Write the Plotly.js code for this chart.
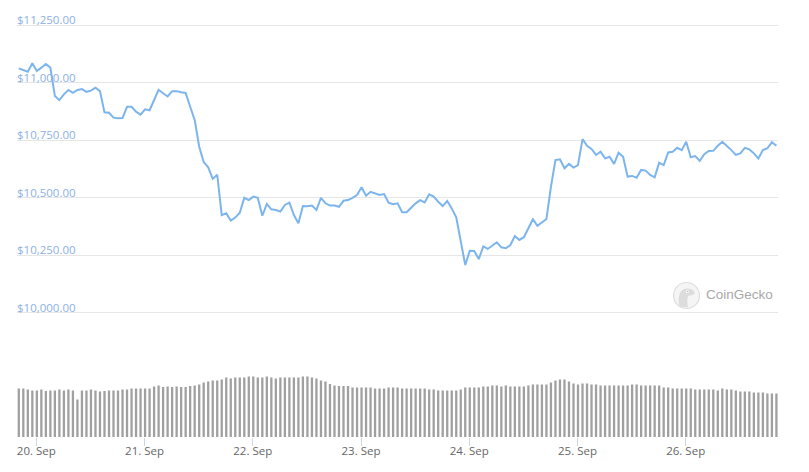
<!DOCTYPE html>
<html>
<head>
<meta charset="utf-8">
<script src="https://cdn.plot.ly/plotly-3.0.1.min.js"></script>
<style>
  html, body { margin: 0; padding: 0; background: #ffffff; }
  #chart { width: 809px; height: 472px; }
</style>
</head>
<body>
<div id="chart"></div>
<script>
// Hourly samples, first one at 19 Sep 2020 20:07 (UTC)
const startTime = Date.UTC(2020, 8, 19, 20, 7);
const stepMs = 3600000;

// Price in USD, one per hour
const prices = [
  11062, 11055, 11047, 11084, 11050, 11065, 11081, 11065, 10942, 10924,
  10949, 10968, 10956, 10968, 10972, 10960, 10965, 10978, 10963, 10871,
  10869, 10848, 10845, 10846, 10895, 10895, 10874, 10861, 10884, 10880,
  10921, 10969, 10954, 10940, 10963, 10963, 10958, 10955, 10895, 10838,
  10722, 10655, 10632, 10582, 10600, 10425, 10433, 10401, 10414, 10435,
  10500, 10490, 10505, 10500, 10422, 10473, 10450, 10447, 10440, 10469,
  10479, 10425, 10389, 10464, 10463, 10466, 10447, 10500, 10476, 10466,
  10466, 10461, 10487, 10490, 10500, 10512, 10546, 10509, 10526, 10520,
  10512, 10516, 10479, 10472, 10476, 10437, 10437, 10457, 10476, 10490,
  10480, 10515, 10505, 10483, 10464, 10486, 10454, 10415, 10317, 10208,
  10270, 10269, 10234, 10289, 10278, 10292, 10307, 10285, 10281, 10295,
  10334, 10317, 10329, 10368, 10407, 10378, 10392, 10408, 10548, 10664,
  10667, 10628, 10647, 10631, 10642, 10755, 10726, 10712, 10686, 10700,
  10671, 10678, 10647, 10696, 10678, 10592, 10595, 10587, 10621, 10618,
  10599, 10589, 10652, 10642, 10697, 10700, 10717, 10707, 10743, 10676,
  10681, 10660, 10689, 10703, 10704, 10726, 10743, 10726, 10707, 10686,
  10693, 10717, 10710, 10693, 10671, 10707, 10715, 10741, 10726
];

// Total volume, billions of USD, one per hour
const volumes = [
  24.3, 24.2, 23.8, 23.3, 23.3, 23.8, 23.0, 23.3, 23.3, 23.8,
  23.3, 23.8, 23.3, 18.8, 23.3, 23.3, 23.8, 23.3, 22.7, 23.0,
  23.3, 23.3, 23.3, 23.8, 23.8, 24.3, 24.3, 24.3, 24.3, 24.3,
  25.2, 25.8, 25.0, 25.3, 25.0, 25.3, 25.0, 25.0, 25.5, 25.8,
  26.3, 27.2, 27.7, 28.2, 28.2, 28.8, 29.7, 29.3, 29.7, 29.7,
  29.7, 30.3, 30.2, 29.7, 29.7, 30.3, 29.8, 29.3, 29.8, 29.8,
  29.8, 29.8, 29.8, 30.2, 30.3, 29.8, 29.3, 28.2, 27.7, 26.5,
  25.8, 25.5, 25.5, 25.5, 24.8, 24.8, 24.8, 24.8, 24.8, 24.3,
  24.3, 24.3, 24.7, 24.8, 24.8, 24.3, 24.3, 24.3, 24.3, 24.3,
  24.3, 23.8, 23.8, 23.3, 23.3, 23.3, 23.3, 23.3, 23.8, 24.8,
  24.8, 24.8, 24.8, 25.3, 25.3, 25.8, 25.8, 25.3, 25.8, 25.3,
  25.3, 25.3, 25.3, 25.8, 26.3, 26.3, 26.3, 26.3, 27.3, 28.2,
  28.8, 28.8, 27.7, 26.8, 26.3, 26.8, 26.8, 26.3, 26.3, 25.8,
  25.8, 25.8, 25.8, 25.8, 25.8, 25.8, 26.3, 26.3, 25.8, 25.8,
  25.8, 25.8, 25.8, 24.8, 24.8, 24.3, 24.3, 24.3, 24.3, 24.3,
  23.8, 23.8, 23.8, 23.8, 23.8, 23.3, 24.3, 23.8, 23.8, 23.3,
  22.8, 22.8, 22.8, 22.3, 22.3, 22.3, 21.8, 21.8, 21.8
];

const dayTicks = ['2020-09-20', '2020-09-21', '2020-09-22', '2020-09-23',
                  '2020-09-24', '2020-09-25', '2020-09-26'];
const dayLabels = ['20. Sep', '21. Sep', '22. Sep', '23. Sep',
                   '24. Sep', '25. Sep', '26. Sep'];

const priceTicks = [10000, 10250, 10500, 10750, 11000, 11250];
const priceTickText = priceTicks.map(v =>
  '$' + v.toLocaleString('en-US', { minimumFractionDigits: 2, maximumFractionDigits: 2 }));

const times = prices.map((_, i) => startTime + i * stepMs);

const lineTrace = {
  type: 'scatter',
  mode: 'lines',
  x: times,
  y: prices,
  xaxis: 'x',
  yaxis: 'y',
  line: { color: '#7cb5ec', width: 2 },
  hoverinfo: 'skip'
};

const volTrace = {
  type: 'bar',
  x: times,
  y: volumes,
  xaxis: 'x',
  yaxis: 'y2',
  marker: { color: '#a0a0a0', line: { width: 0 } },
  hoverinfo: 'skip'
};

const logoSvg =
  '<svg xmlns="http://www.w3.org/2000/svg" width="28" height="28" viewBox="0 0 28 28">' +
  '<circle cx="14" cy="14" r="13" fill="#f5f5f5" stroke="#dedede" stroke-width="1.2"/>' +
  '<path d="M7 25 C5.5 18 6 10 11.5 7.5 C15.5 6 20.5 7.5 22 10.5 C22.5 13 19.5 14 16.5 14 C14.5 15 14.5 20 15.5 26 Z" fill="#dcdcdc"/>' +
  '<circle cx="15" cy="10" r="1.6" fill="#ffffff"/>' +
  '<circle cx="15.2" cy="10" r="0.8" fill="#b8b8b8"/>' +
  '</svg>';

// plot area: x 17..778, y 2..437 (435 px tall)
const H = 435;
const layout = {
  width: 809,
  height: 472,
  margin: { l: 17, r: 31, t: 2, b: 35, pad: 0 },
  paper_bgcolor: '#ffffff',
  plot_bgcolor: '#ffffff',
  showlegend: false,
  bargap: 0.49,
  font: { family: '"Open Sans", "DejaVu Sans", sans-serif', color: '#666666' },
  xaxis: {
    type: 'date',
    anchor: 'y2',
    range: ['2020-09-19 19:43', '2020-09-26 20:28'],
    tickmode: 'array',
    tickvals: dayTicks,
    ticktext: dayLabels,
    ticks: 'outside',
    ticklen: 8,
    tickwidth: 1,
    tickcolor: '#ccd6eb',
    ticklabelstandoff: -5,
    ticklabeloverflow: 'allow',
    showgrid: false,
    zeroline: false,
    showline: false,
    tickfont: { size: 11.5, color: '#666666', family: '"Open Sans", sans-serif' }
  },
  yaxis: {
    domain: [(437 - 336) / H, 1],
    range: [9900, 11350],
    anchor: 'free',
    position: 0,
    side: 'right',
    tickmode: 'array',
    tickvals: priceTicks,
    ticktext: priceTickText,
    ticklabelshift: -5,
    ticklabelstandoff: -1,
    ticks: '',
    showgrid: true,
    gridcolor: '#e6e6e6',
    gridwidth: 1,
    zeroline: false,
    showline: false,
    tickfont: { size: 11.5, color: '#8cb0e6', family: '"Open Sans", sans-serif' }
  },
  yaxis2: {
    domain: [0, 82.4 / H],
    range: [0, 41.2],
    showgrid: false,
    zeroline: false,
    showline: false,
    showticklabels: false,
    ticks: ''
  },
  images: [{
    source: 'data:image/svg+xml;utf8,' + encodeURIComponent(logoSvg),
    xref: 'paper', yref: 'paper',
    x: (672.5 - 17) / 761, y: (437 - 281.5) / H,
    sizex: 28 / 761, sizey: 28 / H,
    xanchor: 'left', yanchor: 'top',
    sizing: 'stretch',
    layer: 'above'
  }],
  annotations: [{
    text: 'CoinGecko',
    xref: 'paper', yref: 'paper',
    x: (704 - 17) / 761, y: (437 - 294.5) / H,
    xanchor: 'left', yanchor: 'middle',
    showarrow: false,
    font: { family: '"Liberation Sans", Arial, sans-serif', size: 13.5, color: '#a9a9a9' }
  }]
};

Plotly.newPlot('chart', [volTrace, lineTrace], layout, { staticPlot: true, displayModeBar: false });
</script>
</body>
</html>
